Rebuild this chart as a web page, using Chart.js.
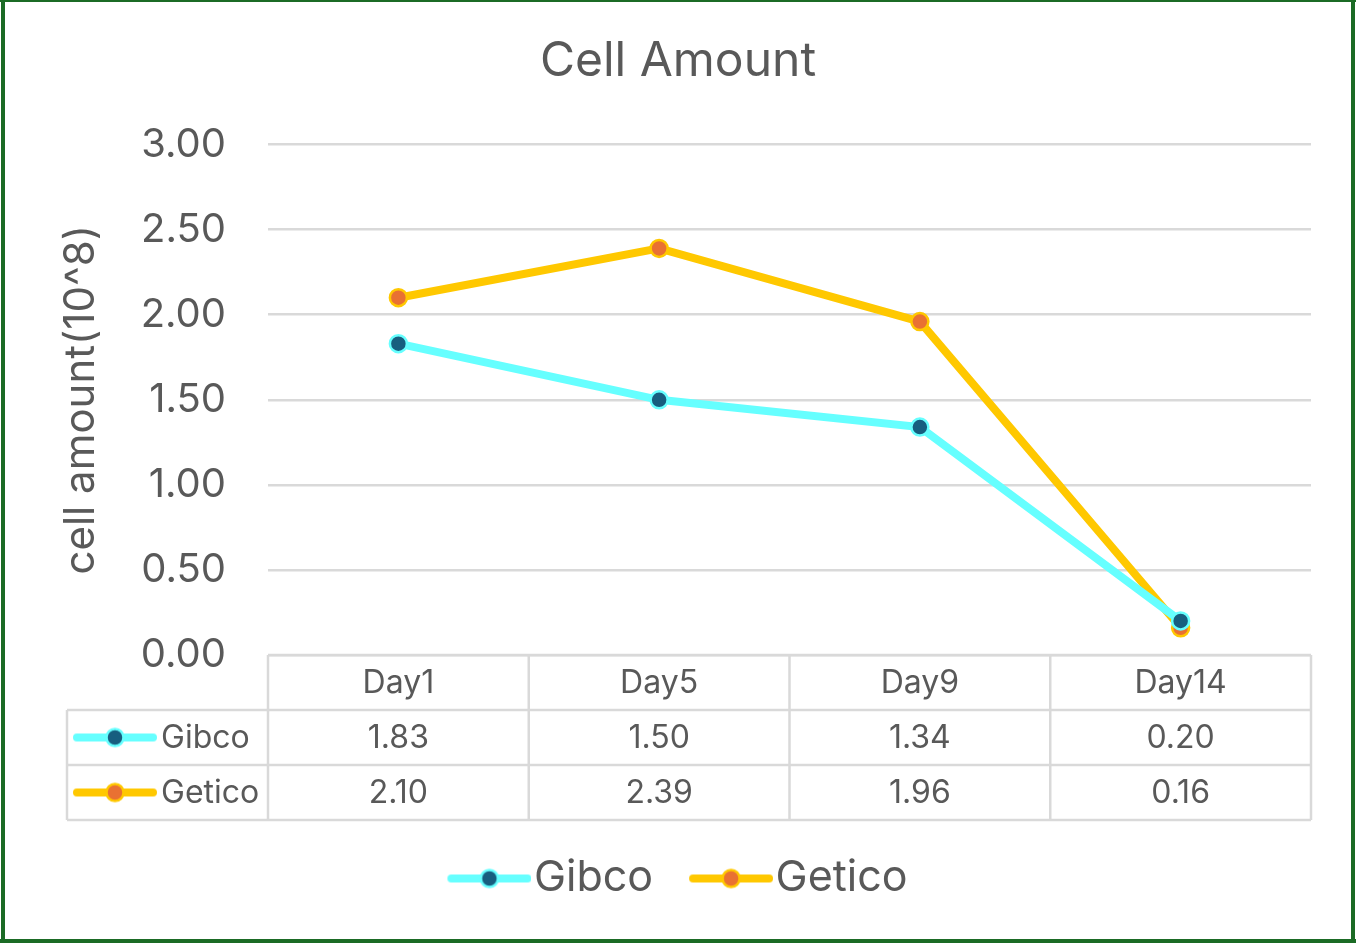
<!DOCTYPE html>
<html>
<head>
<meta charset="utf-8">
<script src="https://cdn.jsdelivr.net/npm/chart.js@4/dist/chart.umd.min.js"></script>
<style>
  html, body { margin: 0; padding: 0; background: #fff; }
  #wrap { width: 1356px; height: 943px; position: relative; }
</style>
</head>
<body>
<div id="wrap"><canvas id="cellChart"></canvas></div>
<script>
// --- Data ---
const days = ["Day1", "Day5", "Day9", "Day14"];
const gibco = [1.83, 1.50, 1.34, 0.20];
const getico = [2.10, 2.39, 1.96, 0.16];
const yTicks = [0, 0.5, 1, 1.5, 2, 2.5, 3];

const FONT = "Inter, 'Noto Sans', sans-serif";
const TEXT = "#595959";
const GRID = "#d9d9d9";

// line + marker symbol, drawn into a small canvas (leftPad = empty space on the left)
function legendSymbol(lineColor, dotColor, leftPad, totalW) {
  const c = document.createElement("canvas");
  c.width = totalW;
  c.height = 26;
  const g = c.getContext("2d");
  const x0 = leftPad + 4;
  const x1 = leftPad + 80;
  g.strokeStyle = lineColor;
  g.lineWidth = 8;
  g.lineCap = "round";
  g.beginPath();
  g.moveTo(x0, 13);
  g.lineTo(x1, 13);
  g.stroke();
  g.beginPath();
  g.arc((x0 + x1) / 2, 13, 8.5, 0, Math.PI * 2);
  g.fillStyle = dotColor;
  g.fill();
  g.lineWidth = 2.5;
  g.strokeStyle = lineColor;
  g.stroke();
  return c;
}

const series = [
  { label: "Gibco", data: gibco, line: "#66ffff", dot: "#175e7f" },
  { label: "Getico", data: getico, line: "#ffc800", dot: "#e97132" },
];
series.forEach((s) => {
  s.symbol = legendSymbol(s.line, s.dot, 0, 84);
  s.legendImg = legendSymbol(s.line, s.dot, 18, 102);
});

// --- Data table under the plot ---
const dataTable = {
  id: "dataTable",
  afterDraw(chart) {
    const { ctx, chartArea, scales } = chart;
    const x = scales.x;
    const top = chartArea.bottom;
    const rowH = 55;
    const leftCol = 67;
    const colW = (chartArea.right - chartArea.left) / days.length;

    ctx.save();
    ctx.strokeStyle = GRID;
    ctx.lineWidth = 2.5;
    ctx.beginPath();
    ctx.moveTo(chartArea.left, top);
    ctx.lineTo(chartArea.right, top);
    for (let r = 1; r <= series.length + 1; r++) {
      ctx.moveTo(leftCol, top + r * rowH);
      ctx.lineTo(chartArea.right, top + r * rowH);
    }
    for (let i = 0; i <= days.length; i++) {
      const xx = chartArea.left + i * colW;
      ctx.moveTo(xx, top);
      ctx.lineTo(xx, top + (series.length + 1) * rowH);
    }
    ctx.moveTo(leftCol, top + rowH);
    ctx.lineTo(leftCol, top + (series.length + 1) * rowH);
    ctx.stroke();

    ctx.fillStyle = TEXT;
    ctx.font = "32px " + FONT;
    ctx.textAlign = "center";
    ctx.textBaseline = "middle";
    days.forEach((d, i) => {
      ctx.fillText(d, x.getPixelForValue(i), top + rowH / 2 + 1);
    });
    series.forEach((s, r) => {
      const cy = top + rowH * (r + 1.5);
      s.data.forEach((v, i) => {
        ctx.fillText(v.toFixed(2), x.getPixelForValue(i), cy + 1);
      });
      ctx.drawImage(s.symbol, 73, cy - 13);
      ctx.textAlign = "left";
      ctx.fillText(s.label, 161, cy + 1);
      ctx.textAlign = "center";
    });
    ctx.restore();
  },
};

const frame = {
  id: "frame",
  afterDraw(chart) {
    const { ctx, width, height } = chart;
    ctx.save();
    ctx.fillStyle = "#1b6b25";
    ctx.fillRect(0, 0, width, 2);
    ctx.fillRect(1, 0, 4, height);
    ctx.fillRect(width - 5, 0, 4, height);
    ctx.fillRect(0, height - 4, width, 4);
    ctx.restore();
  },
};

document.addEventListener("DOMContentLoaded", () => {
  const ctx = document.getElementById("cellChart");
  new Chart(ctx, {
    type: "line",
    data: {
      labels: days,
      datasets: series.map((s) => ({
        label: s.label,
        data: s.data,
        borderColor: s.line,
        borderWidth: 8,
        pointRadius: 8.5,
        pointHoverRadius: 8.5,
        pointBackgroundColor: s.dot,
        pointBorderColor: s.line,
        pointBorderWidth: 2.5,
        pointStyle: "circle",
        tension: 0,
      })),
    },
    options: {
      responsive: true,
      maintainAspectRatio: false,
      animation: false,
      layout: { padding: { top: 10, left: 0, right: 0, bottom: 33 } },
      plugins: {
        tooltip: { enabled: false },
        title: {
          display: true,
          text: "Cell Amount",
          color: TEXT,
          font: { family: FONT, size: 48, weight: "normal" },
          padding: { top: 23, bottom: 54 },
        },
        legend: {
          position: "bottom",
          labels: {
            color: TEXT,
            font: { family: FONT, size: 43 },
            usePointStyle: true,
            pointStyleWidth: 64,
            padding: 37,
            generateLabels: () =>
              series.map((s, i) => ({
                text: s.label,
                fillStyle: s.dot,
                strokeStyle: s.line,
                pointStyle: s.legendImg,
                datasetIndex: i,
                lineWidth: 0,
                fontColor: TEXT,
              })),
          },
        },
      },
      scales: {
        x: {
          offset: true,
          grid: { display: false },
          border: { display: false },
          ticks: { display: false },
          afterFit: (scale) => { scale.height = 165; },
        },
        y: {
          min: 0,
          max: 3,
          afterBuildTicks: (scale) => {
            scale.ticks = yTicks.map((v) => ({ value: v }));
          },
          grid: { color: GRID, lineWidth: 2.5, drawTicks: false },
          border: { display: false },
          ticks: {
            color: TEXT,
            font: { family: FONT, size: 40 },
            padding: 42,
            callback: (v) => Number(v).toFixed(2),
          },
          title: {
            display: true,
            text: "cell amount(10^8)",
            color: TEXT,
            font: { family: FONT, size: 42 },
            padding: { top: 56, bottom: 0 },
          },
          afterFit: (scale) => { scale.width = 268; },
        },
        // empty right-hand strip so the plot ends at the same place as the reference
        yRight: {
          position: "right",
          grid: { display: false },
          border: { display: false },
          ticks: { display: false },
          afterFit: (scale) => { scale.width = 45; },
        },
      },
    },
    plugins: [dataTable, frame],
  });
});
</script>
</body>
</html>
